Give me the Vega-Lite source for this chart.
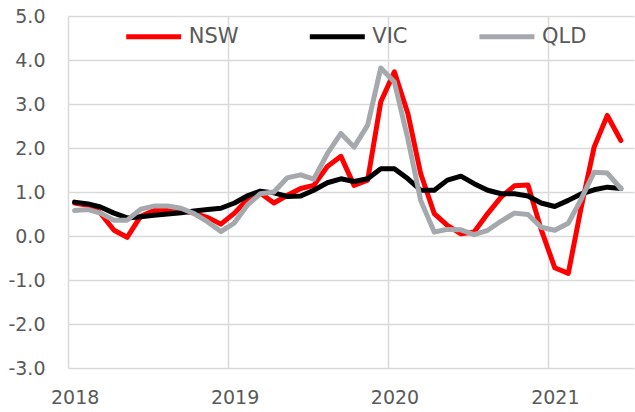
{
  "$schema": "https://vega.github.io/schema/vega-lite/v6.json",
  "autosize": {"type": "none"},
  "width": 566,
  "height": 352,
  "padding": {"left": 68, "top": 16, "right": 1, "bottom": 44},
  "background": "white",
  "config": {"view": {"stroke": null}, "font": "DejaVu Sans"},
  "data": {"values": [
    {"d": "2018-01-16", "NSW": 0.75, "VIC": 0.77, "QLD": 0.58},
    {"d": "2018-02-16", "NSW": 0.70, "VIC": 0.73, "QLD": 0.60},
    {"d": "2018-03-16", "NSW": 0.52, "VIC": 0.66, "QLD": 0.52},
    {"d": "2018-04-16", "NSW": 0.13, "VIC": 0.52, "QLD": 0.36},
    {"d": "2018-05-16", "NSW": -0.03, "VIC": 0.41, "QLD": 0.36},
    {"d": "2018-06-16", "NSW": 0.45, "VIC": 0.44, "QLD": 0.61},
    {"d": "2018-07-16", "NSW": 0.58, "VIC": 0.47, "QLD": 0.68},
    {"d": "2018-08-16", "NSW": 0.60, "VIC": 0.50, "QLD": 0.68},
    {"d": "2018-09-16", "NSW": 0.58, "VIC": 0.53, "QLD": 0.63},
    {"d": "2018-10-16", "NSW": 0.52, "VIC": 0.57, "QLD": 0.51},
    {"d": "2018-11-16", "NSW": 0.42, "VIC": 0.60, "QLD": 0.32},
    {"d": "2018-12-16", "NSW": 0.27, "VIC": 0.63, "QLD": 0.10},
    {"d": "2019-01-16", "NSW": 0.52, "VIC": 0.75, "QLD": 0.30},
    {"d": "2019-02-16", "NSW": 0.85, "VIC": 0.92, "QLD": 0.72},
    {"d": "2019-03-16", "NSW": 0.98, "VIC": 1.02, "QLD": 0.96},
    {"d": "2019-04-16", "NSW": 0.75, "VIC": 0.98, "QLD": 1.00},
    {"d": "2019-05-16", "NSW": 0.92, "VIC": 0.90, "QLD": 1.32},
    {"d": "2019-06-16", "NSW": 1.08, "VIC": 0.91, "QLD": 1.39},
    {"d": "2019-07-16", "NSW": 1.15, "VIC": 1.04, "QLD": 1.29},
    {"d": "2019-08-16", "NSW": 1.58, "VIC": 1.21, "QLD": 1.87},
    {"d": "2019-09-16", "NSW": 1.81, "VIC": 1.30, "QLD": 2.33},
    {"d": "2019-10-16", "NSW": 1.15, "VIC": 1.24, "QLD": 2.02},
    {"d": "2019-11-16", "NSW": 1.27, "VIC": 1.30, "QLD": 2.52},
    {"d": "2019-12-16", "NSW": 3.05, "VIC": 1.53, "QLD": 3.82},
    {"d": "2020-01-16", "NSW": 3.73, "VIC": 1.53, "QLD": 3.50},
    {"d": "2020-02-16", "NSW": 2.78, "VIC": 1.30, "QLD": 2.20},
    {"d": "2020-03-16", "NSW": 1.42, "VIC": 1.04, "QLD": 0.81},
    {"d": "2020-04-16", "NSW": 0.51, "VIC": 1.04, "QLD": 0.09},
    {"d": "2020-05-16", "NSW": 0.24, "VIC": 1.27, "QLD": 0.15},
    {"d": "2020-06-16", "NSW": 0.05, "VIC": 1.36, "QLD": 0.14},
    {"d": "2020-07-16", "NSW": 0.09, "VIC": 1.19, "QLD": 0.03},
    {"d": "2020-08-16", "NSW": 0.51, "VIC": 1.04, "QLD": 0.13},
    {"d": "2020-09-16", "NSW": 0.89, "VIC": 0.96, "QLD": 0.34},
    {"d": "2020-10-16", "NSW": 1.14, "VIC": 0.96, "QLD": 0.52},
    {"d": "2020-11-16", "NSW": 1.16, "VIC": 0.91, "QLD": 0.49},
    {"d": "2020-12-16", "NSW": 0.15, "VIC": 0.75, "QLD": 0.20},
    {"d": "2021-01-16", "NSW": -0.72, "VIC": 0.67, "QLD": 0.13},
    {"d": "2021-02-16", "NSW": -0.85, "VIC": 0.81, "QLD": 0.29},
    {"d": "2021-03-16", "NSW": 0.58, "VIC": 0.95, "QLD": 0.81},
    {"d": "2021-04-16", "NSW": 2.02, "VIC": 1.05, "QLD": 1.45},
    {"d": "2021-05-16", "NSW": 2.74, "VIC": 1.11, "QLD": 1.43},
    {"d": "2021-06-16", "NSW": 2.17, "VIC": 1.08, "QLD": 1.08}
  ]},
  "transform": [{"fold": ["NSW", "VIC", "QLD"], "as": ["s", "v"]}],
  "mark": {"type": "line", "strokeWidth": 5, "strokeCap": "round", "strokeJoin": "round"},
  "encoding": {
    "x": {
      "field": "d", "type": "temporal",
      "scale": {"type": "utc", "domain": [{"year": 2018, "month": 1, "date": 1, "utc": true}, {"year": 2021, "month": 7, "date": 16, "utc": true}]},
      "axis": {
        "title": null,
        "values": [
          {"year": 2018, "month": 1, "date": 1, "utc": true},
          {"year": 2019, "month": 1, "date": 1, "utc": true},
          {"year": 2020, "month": 1, "date": 1, "utc": true},
          {"year": 2021, "month": 1, "date": 1, "utc": true}
        ],
        "format": "%Y",
        "labelOffset": 6.7,
        "labelPadding": 20,
        "labelFont": "DejaVu Sans",
        "labelFontSize": 19,
        "labelColor": "#595959",
        "labelFlush": false,
        "ticks": false,
        "domain": false,
        "grid": true,
        "gridColor": "#D9D9D9",
        "gridWidth": 1.5
      }
    },
    "y": {
      "field": "v", "type": "quantitative",
      "scale": {"domain": [-3, 5], "nice": false, "zero": false},
      "axis": {
        "title": null,
        "values": [-3, -2, -1, 0, 1, 2, 3, 4, 5],
        "labelExpr": "datum.value < 0 ? '-' + format(-datum.value, '.1f') : format(datum.value, '.1f')",
        "labelPadding": 23,
        "labelFont": "DejaVu Sans",
        "labelFontSize": 19,
        "labelColor": "#595959",
        "ticks": false,
        "domain": false,
        "grid": true,
        "gridColor": "#D9D9D9",
        "gridWidth": 1.5
      }
    },
    "color": {
      "field": "s", "type": "nominal",
      "scale": {"domain": ["NSW", "VIC", "QLD"], "range": ["#FF0000", "#000000", "#A5A8AC"]},
      "legend": {
        "title": null,
        "orient": "none",
        "direction": "horizontal",
        "legendX": 55.7,
        "legendY": -9.2,
        "padding": 0,
        "symbolType": "stroke",
        "symbolSize": 3025,
        "symbolStrokeWidth": 5,
        "labelOffset": 5,
        "columnPadding": 60.6,
        "labelFont": "DejaVu Sans",
        "labelFontSize": 21,
        "labelColor": "#595959"
      }
    }
  }
}
